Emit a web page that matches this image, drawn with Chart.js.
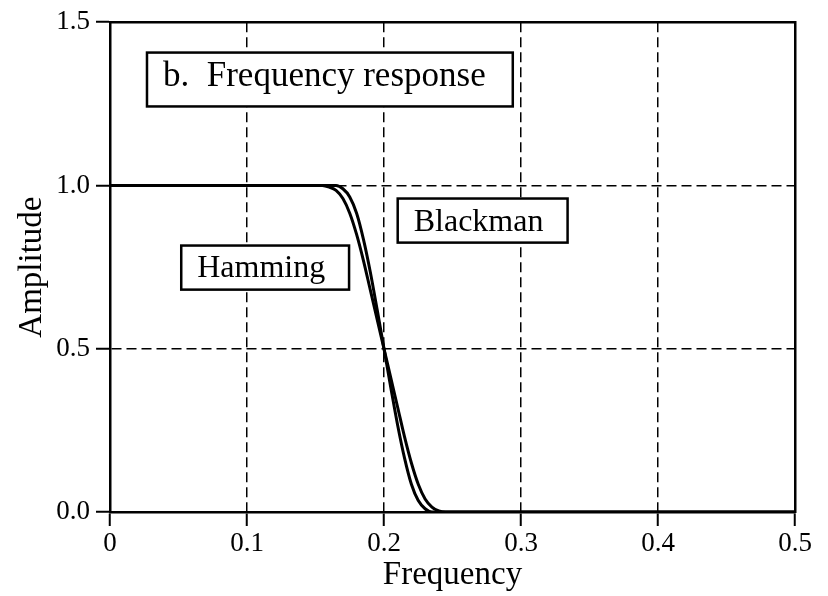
<!DOCTYPE html>
<html>
<head>
<meta charset="utf-8">
<title>Frequency response</title>
<script src="https://cdn.jsdelivr.net/npm/chart.js@4.4.1/dist/chart.umd.min.js"></script>
<style>
  html, body { margin: 0; padding: 0; background: #fff; }
  #wrap { width: 828px; height: 596px; }
</style>
</head>
<body>
<div id="wrap"><canvas id="freqResp"></canvas></div>
<script>
// windowed-sinc low-pass, cutoff 0.2 — frequency (fraction of fs) vs amplitude
const hammingFreq = [0, 0.05, 0.10, 0.15, 0.165, 0.17, 0.175, 0.18, 0.185, 0.19, 0.195, 0.20, 0.205, 0.21, 0.215, 0.22, 0.225, 0.23, 0.235, 0.30, 0.40, 0.50];
const hammingAmp  = [1, 1, 1, 1, 1, 0.99, 0.965, 0.915, 0.835, 0.735, 0.62, 0.5, 0.38, 0.265, 0.165, 0.085, 0.035, 0.01, 0, 0, 0, 0];

const blackmanFreq = [0, 0.05, 0.10, 0.15, 0.155, 0.16, 0.165, 0.17, 0.175, 0.18, 0.185, 0.19, 0.195, 0.20, 0.205, 0.21, 0.215, 0.22, 0.225, 0.23, 0.235, 0.24, 0.245, 0.30, 0.40, 0.50];
const blackmanAmp  = [1, 1, 1, 1, 1, 0.995, 0.985, 0.96, 0.915, 0.85, 0.77, 0.68, 0.59, 0.5, 0.41, 0.32, 0.23, 0.15, 0.085, 0.04, 0.015, 0.003, 0, 0, 0, 0];

const xTicks = [0, 0.1, 0.2, 0.3, 0.4, 0.5];
const xTickLabels = ['0', '0.1', '0.2', '0.3', '0.4', '0.5'];
const yTicks = [0, 0.5, 1.0, 1.5];
const yTickLabels = ['0.0', '0.5', '1.0', '1.5'];

const serif = '"Liberation Serif", "Times New Roman", serif';

// boxed text notes, placed in data units
const notes = [
  { text: 'b.  Frequency response', size: 35, x0: 0.027, x1: 0.294, y0: 1.407, y1: 1.242, base: 33 },
  { text: 'Blackman', size: 32, x0: 0.210, x1: 0.334, y0: 0.960, y1: 0.825, base: 32 },
  { text: 'Hamming', size: 32, x0: 0.052, x1: 0.1745, y0: 0.816, y1: 0.681, base: 31 }
];

const toPoints = (xs, ys) => xs.map((x, i) => ({ x: x, y: ys[i] }));

const notesPlugin = {
  id: 'notes',
  afterDatasetsDraw(chart) {
    const { ctx, scales } = chart;
    ctx.save();
    notes.forEach(n => {
      const left = scales.x.getPixelForValue(n.x0);
      const right = scales.x.getPixelForValue(n.x1);
      const top = scales.y.getPixelForValue(n.y0);
      const bottom = scales.y.getPixelForValue(n.y1);
      ctx.fillStyle = '#fff';
      ctx.fillRect(left, top, right - left, bottom - top);
      ctx.lineWidth = 2.5;
      ctx.strokeStyle = '#000';
      ctx.strokeRect(left, top, right - left, bottom - top);
      ctx.fillStyle = '#000';
      ctx.font = n.size + 'px ' + serif;
      ctx.textBaseline = 'alphabetic';
      ctx.textAlign = 'left';
      ctx.fillText(n.text, left + 16, top + n.base);
    });
    ctx.restore();
  }
};

const lineStyle = {
  borderColor: '#000',
  borderWidth: 3,
  pointRadius: 0,
  showLine: true,
  fill: false,
  cubicInterpolationMode: 'monotone'
};

const gridStyle = {
  color: '#000',
  lineWidth: 1.5,
  tickLength: 14,
  tickColor: '#000',
  tickWidth: 2,
  tickBorderDash: []
};

new Chart(document.getElementById('freqResp').getContext('2d'), {
  type: 'scatter',
  data: {
    datasets: [
      Object.assign({ label: 'Hamming', data: toPoints(hammingFreq, hammingAmp) }, lineStyle),
      Object.assign({ label: 'Blackman', data: toPoints(blackmanFreq, blackmanAmp) }, lineStyle)
    ]
  },
  options: {
    responsive: true,
    maintainAspectRatio: false,
    animation: false,
    layout: { padding: { top: 22, right: 33, left: 0, bottom: 0 } },
    plugins: {
      legend: { display: false },
      tooltip: { enabled: false }
    },
    scales: {
      x: {
        type: 'linear',
        position: 'bottom',
        min: 0,
        max: 0.5,
        afterBuildTicks: s => { s.ticks = xTicks.map(v => ({ value: v })); },
        afterFit: s => { s.height = 84; },
        ticks: {
          color: '#000',
          padding: 2,
          maxRotation: 0,
          font: { family: serif, size: 27 },
          callback: (v, i) => xTickLabels[i]
        },
        grid: gridStyle,
        border: { display: true, color: '#000', width: 2.5, dash: [10, 5] },
        title: {
          display: true,
          text: 'Frequency',
          color: '#000',
          font: { family: serif, size: 33 },
          padding: { top: 0, bottom: 1 }
        }
      },
      y: {
        type: 'linear',
        position: 'left',
        min: 0,
        max: 1.5,
        afterBuildTicks: s => { s.ticks = yTicks.map(v => ({ value: v })); },
        afterFit: s => { s.width = 110; },
        ticks: {
          color: '#000',
          padding: 6,
          font: { family: serif, size: 27 },
          callback: (v, i) => yTickLabels[i]
        },
        grid: gridStyle,
        border: { display: true, color: '#000', width: 2.5, dash: [10, 5] },
        title: {
          display: true,
          text: 'Amplitude',
          color: '#000',
          font: { family: serif, size: 33 },
          padding: { top: 13, bottom: 0 }
        }
      },
      // plain top and right edges of the frame
      xTop: {
        type: 'linear',
        position: 'top',
        min: 0,
        max: 0.5,
        afterFit: s => { s.height = 0; },
        ticks: { display: false },
        grid: { display: false, drawTicks: false },
        border: { display: true, color: '#000', width: 2.5 }
      },
      yRight: {
        type: 'linear',
        position: 'right',
        min: 0,
        max: 1.5,
        afterFit: s => { s.width = 0; },
        ticks: { display: false },
        grid: { display: false, drawTicks: false },
        border: { display: true, color: '#000', width: 2.5 }
      }
    }
  },
  plugins: [notesPlugin]
});
</script>
</body>
</html>
